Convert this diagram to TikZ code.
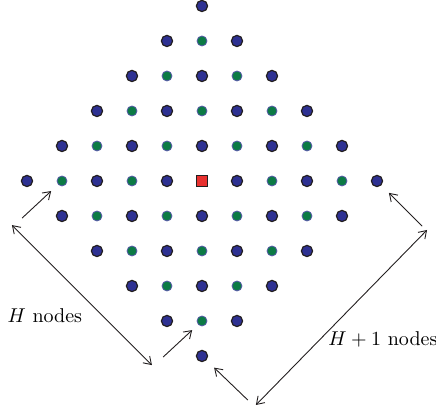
\documentclass[tikz,border=0pt]{standalone}
\definecolor{DOTblue}{HTML}{2E3192}
\definecolor{DOTgreen}{HTML}{0B7A45}
\definecolor{DOTred}{HTML}{E8312F}
\definecolor{DOTedge}{HTML}{231F20}
\usetikzlibrary{arrows.meta, calc, positioning}
\tikzset{
   bluenode/.style={circle, draw=DOTedge, fill=DOTblue, line width=0.6pt, minimum size=5.6pt, inner sep=0pt},
   greennode/.style={circle, draw=DOTblue!80, fill=DOTgreen, line width=0.4pt, minimum size=5pt, inner sep=0pt},
   sinknode/.style={rectangle, draw=DOTedge, fill=DOTred, line width=0.6pt, minimum size=5.8pt, inner sep=0pt},
   hop/.style={-{Straight Barb[length=3.6pt, width=4.8pt]}, line width=0.45pt, DOTedge},
   span/.style={{Straight Barb[length=3.6pt, width=4.8pt]}-{Straight Barb[length=3.6pt, width=4.8pt]}, line width=0.45pt, DOTedge}
}

\begin{document}
\begin{tikzpicture}[x=17.5pt, y=17.5pt]
      \useasboundingbox (-5.771,-6.6) rectangle (6.686,5.171);
      % Diamond of nodes, rows v = 5 ... -5
      \foreach \v in {5,...,-5} {
         \pgfmathtruncatemacro\d{5-abs(\v)}
         \foreach \u in {-\d,...,\d} {
            \pgfmathtruncatemacro\k{\u}
            \pgfmathtruncatemacro\odd{mod(\k+\d,2)}
            \ifnum\odd=0
               \node[bluenode] (n\k_\v) at (\k,\v) {};
            \else
               \node[greennode] (n\k_\v) at (\k,\v) {};
            \fi
         }
      }
      % Sink in the middle
      \node[sinknode] (sink) at (0,0) {};
      % Free ends of the arrows
      \coordinate (t1) at (-5.14,-1.06);
      \coordinate (t3) at (-1.11,-5.03);
      \coordinate (t4) at (1.31,-6.26);
      \coordinate (t6) at (6.29,-1.29);
      \coordinate (l1) at (-5.43,-1.26);
      \coordinate (l2) at (-1.43,-5.26);
      \coordinate (r1) at (1.54,-6.40);
      \coordinate (r2) at (6.43,-1.40);
      % Arrows to the corner nodes
      \draw[hop, shorten >=4.7pt] (t1) -- (n-4_0);
      \draw[hop, shorten >=4pt] (t3) -- (n0_-4);
      \draw[hop, shorten >=5.3pt] (t4) -- (n0_-5);
      \draw[hop, shorten >=5.3pt] (t6) -- (n5_0);
      % Extents
      \draw[span] (l1) -- (l2);
      \draw[span] (r1) -- (r2);
      \node (hleft) at (-4.49,-3.86) {$H$ nodes};
      \node (hright) at (5.17,-4.54) {$H+1$ nodes};
\end{tikzpicture}
\end{document}
